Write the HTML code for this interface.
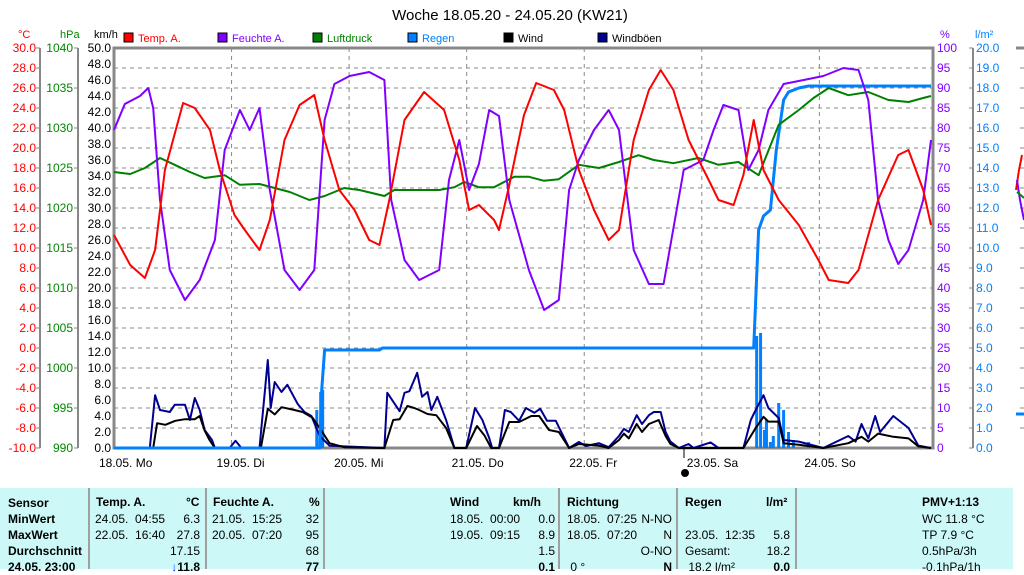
<!DOCTYPE html>
<html><head><meta charset="utf-8"><style>
body{margin:0;background:#fff;width:1024px;height:569px;overflow:hidden;font-family:"Liberation Sans",sans-serif}
svg{position:absolute;left:0;top:0}
#tbl{position:absolute;left:0;top:488px;width:1013px;height:81px;background:#ccf8f8;font-size:12px}
.col{position:absolute;top:0;height:81px;border-left:2px solid #a0a0a0}
.r{position:absolute;white-space:nowrap}
.b{font-weight:bold}
</style></head><body>
<svg width="1024" height="569" id="ch"></svg>
<div id="tbl">
<div class="r b" style="left:8px;top:7px;line-height:16px">Sensor<br>MinWert<br>MaxWert<br>Durchschnitt<br>24.05. 23:00</div>
<div class="col" style="left:88px">
<div class="r b" style="left:6px;top:7px">Temp. A.</div><div class="r b" style="left:96px;top:7px">°C</div>
<div class="r" style="left:5px;top:23px;line-height:16px">24.05.&nbsp; 04:55<br>22.05.&nbsp; 16:40</div>
<div class="r" style="right:-110px;top:23px;line-height:16px;text-align:right;width:40px">6.3<br>27.8<br>17.15<br><b><span style="color:#0040ff">↓</span>11.8</b></div></div>
<div class="col" style="left:205px">
<div class="r b" style="left:6px;top:7px">Feuchte A.</div><div class="r b" style="left:102px;top:7px">%</div>
<div class="r" style="left:5px;top:23px;line-height:16px">21.05.&nbsp; 15:25<br>20.05.&nbsp; 07:20</div>
<div class="r" style="left:72px;top:23px;line-height:16px;text-align:right;width:40px">32<br>95<br>68<br><b>77</b></div></div>
<div class="col" style="left:323px">
<div class="r b" style="left:125px;top:7px">Wind</div>
<div class="r" style="left:125px;top:23px;line-height:16px">18.05.&nbsp; 00:00<br>19.05.&nbsp; 09:15</div>
<div class="r b" style="left:188px;top:7px">km/h</div>
<div class="r" style="left:190px;top:23px;line-height:16px;text-align:right;width:40px">0.0<br>8.9<br>1.5<br><b>0.1</b></div></div>
<div class="col" style="left:558px">
<div class="r b" style="left:7px;top:7px">Richtung</div>
<div class="r" style="left:7px;top:23px;line-height:16px">18.05.&nbsp; 07:25<br>18.05.&nbsp; 07:20<br><br>&nbsp;0 °</div>
<div class="r" style="left:70px;top:23px;line-height:16px;text-align:right;width:42px">N-NO<br>N<br>O-NO<br><b>N</b></div></div>
<div class="col" style="left:676px">
<div class="r b" style="left:7px;top:7px">Regen</div><div class="r b" style="left:88px;top:7px">l/m²</div>
<div class="r" style="left:7px;top:39px;line-height:16px">23.05.&nbsp; 12:35<br>Gesamt:<br>&nbsp;18.2 l/m²</div>
<div class="r" style="left:72px;top:39px;line-height:16px;text-align:right;width:40px">5.8<br>18.2<br><b>0.0</b></div></div>
<div class="col" style="left:795px">
<div class="r b" style="left:125px;top:7px">PMV+1:13</div>
<div class="r" style="left:125px;top:23px;line-height:16px">WC 11.8 °C<br>TP 7.9 °C<br>0.5hPa/3h<br>-0.1hPa/1h</div></div>
</div>
<script>
const dayLabels=["18.05.  Mo","19.05.  Di","20.05.  Mi","21.05.  Do","22.05.  Fr","23.05.  Sa","24.05.  So"];
const tempTicks=["30.0","28.0","26.0","24.0","22.0","20.0","18.0","16.0","14.0","12.0","10.0","8.0","6.0","4.0","2.0","0.0","-2.0","-4.0","-6.0","-8.0","-10.0"];
const hpaTicks=["1040","1035","1030","1025","1020","1015","1010","1005","1000","995","990"];
const humTicks=["100","95","90","85","80","75","70","65","60","55","50","45","40","35","30","25","20","15","10","5","0"];
const tempT=[0,3.3,6.3,8.4,10.4,14.1,16.5,19.6,21.6,24.6,26.7,29.7,31.8,34.8,37.9,40.9,43,46,49.1,52.1,54.2,56.2,59.3,63.3,67.4,70.5,72.5,74.5,77.6,78.6,80.7,83.7,86.2,89.8,91.9,94.9,98,101,103.1,106.1,109.2,111.6,114.2,117.3,121.4,123.4,126.5,128.5,130.6,132.6,135.7,139.8,143.8,145.9,149.9,152,156,160.1,162.2,165.2,166.8];
const tempV=[11.3,8.3,7.0,9.8,17.8,24.5,24.0,21.8,17.8,13.3,11.8,9.8,12.8,20.8,24.3,25.3,20.8,15.8,13.8,10.8,10.3,14.8,22.8,25.6,23.8,18.8,13.8,14.3,12.8,11.8,16.3,23.3,26.5,25.8,23.8,17.8,13.8,10.8,11.8,20.8,25.8,27.8,25.8,20.8,16.8,14.8,14.3,17.3,22.8,17.8,14.8,12.3,8.8,6.8,6.5,7.8,14.8,19.3,19.8,15.8,12.3];
const humT=[0,2.2,5.3,7,8,9.4,11.4,14.5,17.5,20.6,22.6,25.7,27.7,29.7,31.8,34.8,37.9,40.9,43,45,48.1,50.1,52.1,55.2,56.6,59.3,62.3,66.4,68.4,70.5,72.5,74.5,76.6,78.6,80.7,84.7,87.8,90.8,92.9,94.9,98,101,103.1,106.1,109.2,112.2,116.3,120.3,122.4,124.4,127.5,129.5,131.6,133.6,136.7,140.8,144.8,148.9,152,154,156,158.1,160.1,162.2,165.2,166.8];
const humV=[79.5,86,88,90,85,62,44.5,37,42,52,74.5,84.5,79.5,85,64.5,44.5,39.5,44.5,82,91,93,93.5,94,92,62,47,42,44.5,67,77,64.5,71,84.5,83,62,44.5,34.5,37,64.5,72,79.5,84.5,79.5,49.5,41,41,69.5,72,79.5,85.75,84.5,69.5,74.5,84.5,91,92,93,95,94.5,87,62,52,46,49.5,62,77];
const presT=[0,3.3,6.3,9.4,12.4,15.5,18.5,22.6,25.7,29.7,32.8,35.9,39.9,43,47,50.1,55.2,57.2,62.3,66.4,69.5,71.5,74.5,77.6,81.7,84.7,87.8,90.8,94.9,99,103.1,107.1,110.2,114.2,119.3,123.4,127.5,131.6,135.7,139.8,142.8,145.9,149.9,154,158.1,162.2,165.2,166.8];
const presV=[1024.5,1024.25,1025,1026.25,1025.4,1024.5,1023.75,1024.1,1022.9,1023,1022.5,1022,1021,1021.5,1022.5,1022.25,1021.5,1022.25,1022.25,1022.25,1022.6,1023.25,1022.6,1022.6,1023.9,1023.9,1023.4,1023.6,1025.4,1025,1025.75,1026.6,1026,1025.6,1026.25,1025.4,1025.75,1024.1,1030.4,1032.25,1033.75,1035,1034.1,1034.5,1033.5,1033.25,1033.75,1034];
const rainT=[0,40.7,42,42.4,43,54.2,54.8,130.6,131.6,132.6,134,135.2,136.7,137.7,139.8,141.8,166.8];
const rainV=[0,0,0,2.9,4.9,4.9,5.0,5.0,10.9,11.6,11.9,14.9,17.4,17.8,18.0,18.1,18.1];
const rainBarT=[41.4,42.2,42.6,131.2,132,132.8,133.2,134,134.6,135.7,136.7,137.7,138.7,141.8];
const rainBarV=[1.9,2.8,2.9,5.6,5.75,0.9,1.4,0.3,0.6,2.25,1.9,0.8,0.4,0.3];
const gustT=[0,7.3,8.4,9.4,11.4,12.4,14.5,15.5,16.5,17.5,18.5,20,20.6,23.6,24.8,26,29.7,31.4,32,32.8,34.2,35.4,37.5,38.9,40.3,42,44,47,55.2,55.8,58.3,59.3,60.3,61.9,62.9,64,64.8,66,67.8,69.5,71.9,73.7,75.2,76.6,77.2,78.6,79.8,81,82.7,84.1,85.8,87,88.4,90.2,92.9,94.9,96.3,99,101,103.1,104.1,105.1,106.7,107.8,109.2,110.2,111.6,112.6,113.6,115.3,117.3,118.3,121.8,123.4,128.5,130,130.8,132.6,133.6,135.7,136.7,139.8,144.8,149.9,151.4,152.6,154,155.4,156.4,159.1,162.2,164.2,166.8];
const gustV=[0,0,6.6,4.75,4.5,5.4,5.4,3.5,6.25,4.75,2.25,1,0,0,0.9,0,0,11,5,8.25,7,7.9,5.5,4.5,4,1.5,0.3,0.2,0,6.9,4.6,6.9,7.1,9.4,6.4,7,4.75,6.4,3.5,0,0,5,3.5,1.25,0,0,4.75,4.5,3.4,5,4.4,4.9,3.4,3.4,0,0.75,0.25,0.6,0.1,1.5,2.4,2,4.1,3,4.1,4.5,4.5,2,0.8,0,0.5,0,0.7,0,0,3.5,4.5,6.6,5,3.75,1,0.8,0,1.5,0.8,3,1.2,4,2,4,2.5,0.3,0];
const windT=[0,8,8.8,10.5,12.5,14.5,16.5,17.5,18.5,19.5,20.6,30,31.4,32.8,34.2,36.5,38.5,40.5,42,44,47,55.2,57,58.3,59.9,61.3,62.3,64,65.8,67.8,69.5,71.9,74.1,75.6,77,78.6,80.7,82.7,85.2,86.8,88.8,90.8,92.9,94.9,99,101,103.1,104.1,105.1,106.7,107.8,109.2,111.2,112.6,113.6,115.3,128.5,130,131,132.6,133.6,135.7,136.7,139.8,144.8,149.9,152.6,154,156,159.1,162.2,164.2,166.8];
const windV=[0,0,3.1,2.9,3.4,3.6,3.6,4.0,2.2,1.0,0,0,4.9,4.2,5.1,4.8,4.5,3.8,2.5,0.6,0.1,0,3.5,3.6,5.25,5,4.75,4.25,4.1,2.5,0,0,2.75,1.6,0,0,3.25,3.25,4,4,2.25,2,0,0.5,0.3,0,1,1.8,1.2,3,2,3,3.5,1.5,0.5,0,0,1.5,2.5,3.9,3.3,3.3,0.6,0.4,0,0.6,1.4,0.8,1.8,1.4,1.2,0.2,0];

const NS="http://www.w3.org/2000/svg",svg=document.getElementById('ch');
const X0=114,X1=933,Y0=48,Y1=448,DAY=(X1-X0)/167.2*24;
const xT=h=>X0+h*DAY/24;
const yKmh=v=>Y1-v*(Y1-Y0)/50, yC=v=>Y1-(v+10)*(Y1-Y0)/40, yP=v=>Y1-(v-990)*(Y1-Y0)/50, yH=v=>Y1-v*(Y1-Y0)/100, yR=v=>Y1-v*(Y1-Y0)/20;
function el(t,a,p){const e=document.createElementNS(NS,t);for(const k in a)e.setAttribute(k,a[k]);(p||svg).appendChild(e);return e;}
function txt(x,y,s,c,anchor,size){const e=el('text',{x:x,y:y,fill:c,'font-size':size||12,'text-anchor':anchor||'start','font-family':'Liberation Sans, sans-serif'});e.textContent=s;return e;}
let t=txt(510,20,"Woche 18.05.20 - 24.05.20 (KW21)","#000","middle",15);


[[18,"°C","#f00"],[60,"hPa","#080"],[94,"km/h","#000"],[940,"%","#8000ff"],[975,"l/m²","#0080ff"]].forEach(u=>{const e=txt(u[0],38,u[1],u[2],"start",11);

});
const grid=el('g',{});


for(let i=1;i<20;i++){const y=Y0+i*20;el('line',{x1:X0,x2:X1,y1:y,y2:y,stroke:'#888','stroke-dasharray':'4,4'},grid);}
for(let d=1;d<7;d++){const x=xT(d*24);el('line',{x1:x,x2:x,y1:Y0,y2:Y1,stroke:'#888','stroke-dasharray':'4,4'},grid);}
const ax=el('g',{});


el('line',{x1:40,x2:40,y1:Y0,y2:Y1,stroke:'#888','stroke-width':2},ax);
el('line',{x1:78,x2:78,y1:Y0,y2:Y1,stroke:'#888','stroke-width':2},ax);
el('line',{x1:973,x2:973,y1:Y0,y2:Y1,stroke:'#888','stroke-width':2},ax);
tempTicks.forEach((s,i)=>{const y=Y0+i*20;txt(36,y+4,s,"#f00","end");el('line',{x1:36,x2:40,y1:y,y2:y,stroke:'#888'},ax);});
hpaTicks.forEach((s,i)=>{const y=Y0+i*40;txt(73,y+4,s,"#080","end");el('line',{x1:74,x2:78,y1:y,y2:y,stroke:'#888'},ax);});
for(let i=0;i<=25;i++){const v=50-i*2;txt(111,Y0+i*16+4,v.toFixed(1),"#000","end");}
humTicks.forEach((s,i)=>{const y=Y0+i*20;txt(937,y+4,s,"#8000ff","start");});
for(let i=0;i<=20;i++){const v=20-i;const y=Y0+i*20;txt(976,y+4,v.toFixed(1),"#0080ff","start");el('line',{x1:969,x2:973,y1:y,y2:y,stroke:'#888'},ax);}
el('rect',{x:X0,y:Y0,width:X1-X0,height:Y1-Y0,fill:'none',stroke:'#888','stroke-width':3},ax);
dayLabels.forEach((s,d)=>{const e=txt(xT(d*24)-15,467,s,"#000","start",12);e.setAttribute('xml:space','preserve');e.textContent=s;

});
el('line',{x1:684,x2:684,y1:448,y2:458,stroke:'#000'});
const mk=el('circle',{cx:685,cy:473,r:4,fill:'#000'});


function line(T,V,fy,color,name,w){const d=T.map((h,i)=>(i?'L':'M')+xT(h).toFixed(1)+','+fy(V[i]).toFixed(1)).join('');
const p=el('path',{d:d,fill:'none',stroke:color,'stroke-width':w||2,'stroke-linejoin':'round'});

}
rainBarT.forEach((h,i)=>{const r=el('rect',{x:xT(h)-1.5,y:yR(rainBarV[i]),width:3,height:Y1-yR(rainBarV[i]),fill:'#0080ff'});

});
line(gustT,gustV,yKmh,'#000090','wind-gust-line',2);
line(windT,windV,yKmh,'#000','wind-line',2);
line(rainT,rainV,yR,'#0080ff','rain-total-line',3);
line(presT,presV,yP,'#008000','pressure-line',2);
line(humT,humV,yH,'#8000ff','humidity-line',2);
line(tempT,tempV,yC,'#f00','temperature-line',2);
const leg=[["Temp. A.","#f00","#f00",124],["Feuchte A.","#8000ff","#8000ff",218],["Luftdruck","#008000","#008000",313],["Regen","#0080ff","#0080ff",408],["Wind","#000","#000",504],["Windböen","#000090","#000",598]];
leg.forEach(l=>{const g=el('g',{});


el('rect',{x:l[3],y:33,width:9,height:9,fill:l[1],stroke:'#000'},g);
const e=txt(l[3]+14,42,l[0],l[2],"start",11);g.appendChild(e);});
el('line',{x1:1016,x2:1024,y1:48,y2:48,stroke:'#888','stroke-width':3});
for(let i=1;i<20;i++)el('line',{x1:1020,x2:1024,y1:Y0+i*20,y2:Y0+i*20,stroke:'#888'});
el('path',{d:'M1016,190 L1019,170 L1022,155',stroke:'#f00','stroke-width':2,fill:'none'});
el('path',{d:'M1017,180 L1020,200 L1024,220',stroke:'#8000ff','stroke-width':2,fill:'none'});
el('path',{d:'M1017,192 L1024,198',stroke:'#080','stroke-width':2,fill:'none'});
el('line',{x1:1016,x2:1024,y1:414,y2:414,stroke:'#0080ff','stroke-width':3});
</script>
</body></html>
